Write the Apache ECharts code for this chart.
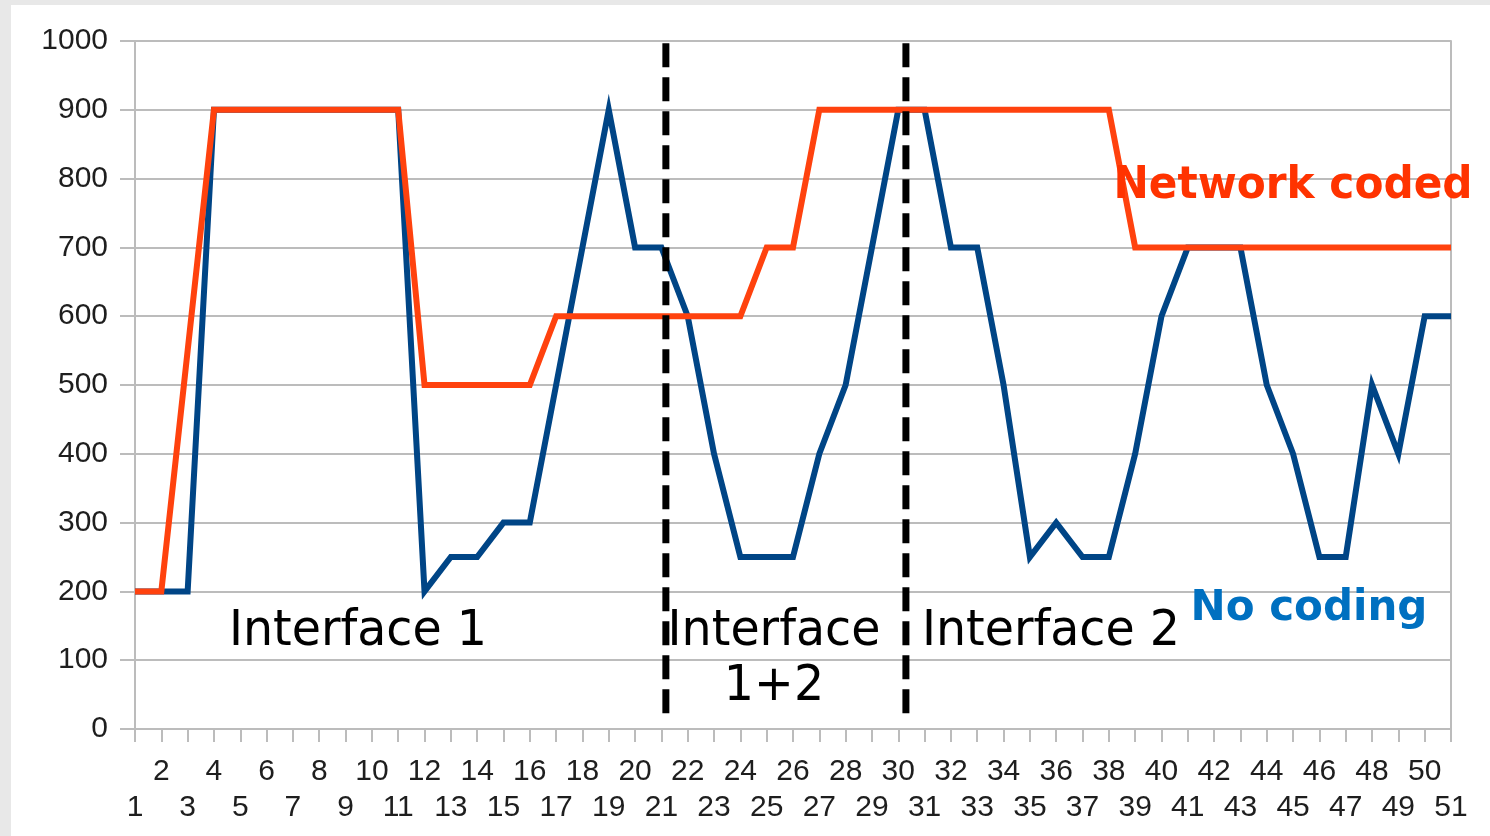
<!DOCTYPE html>
<html>
<head>
<meta charset="utf-8">
<script src="https://cdn.jsdelivr.net/npm/echarts@6/dist/echarts.min.js"></script>
<style>
  html, body { margin: 0; padding: 0; width: 1490px; height: 836px; background: #e8e8e8; overflow: hidden; }
  #chart { position: absolute; left: 11px; top: 5px; width: 1479px; height: 831px; background: #ffffff; }
</style>
</head>
<body>
<div id="chart"></div>
<script>
const categories = ['1','2','3','4','5','6','7','8','9','10','11','12','13','14','15','16','17','18','19','20','21','22','23','24','25','26','27','28','29','30','31','32','33','34','35','36','37','38','39','40','41','42','43','44','45','46','47','48','49','50','51'];

const networkCoded = [200,200,550,900,900,900,900,900,900,900,900,500,500,500,500,500,600,600,600,600,600,600,600,600,700,700,900,900,900,900,900,900,900,900,900,900,900,900,700,700,700,700,700,700,700,700,700,700,700,700,700];

const noCoding = [200,200,200,900,900,900,900,900,900,900,900,200,250,250,300,300,500,700,900,700,700,600,400,250,250,250,400,500,700,900,900,700,700,500,250,300,250,250,400,600,700,700,700,500,400,250,250,500,400,600,600];

const yTicks = { min: 0, max: 1000, interval: 100 };

// Region dividers (position on the category scale, 1-based) and their vertical extent
const dividers = [21.17, 30.29];
const dividerSpan = [23, 998];

const regionLabels = ['Interface 1', 'Interface\n1+2', 'Interface 2'];
const seriesLabels = ['Network coded', 'No coding'];

const chart = echarts.init(document.getElementById('chart'), null, { renderer: 'canvas' });

const gridColor = '#bcbcbc';
const dividerSeries = dividers.map((d, i) => ({
  name: 'divider' + i,
  type: 'line',
  xAxisIndex: 1,
  yAxisIndex: 0,
  symbol: 'none',
  silent: true,
  z: 5,
  lineStyle: { color: '#000000', width: 7, type: [24, 10] },
  data: [[d, dividerSpan[0]], [d, dividerSpan[1]]]
}));

const textFont = 'DejaVu Sans';

const option = {
  animation: false,
  backgroundColor: '#ffffff',
  grid: { left: 124, right: 39, top: 36, bottom: 107 },
  xAxis: [{
    type: 'category',
    data: categories,
    boundaryGap: false,
    axisLine: { show: true, lineStyle: { color: gridColor, width: 2 } },
    axisTick: { show: true, interval: 0, length: 13, lineStyle: { color: gridColor, width: 2 } },
    axisLabel: {
      interval: 0,
      margin: 25,
      fontSize: 30,
      lineHeight: 36,
      fontFamily: 'Liberation Sans',
      color: '#1e1e1e',
      formatter: function (v) { return (parseInt(v, 10) % 2 === 1) ? '\n' + v : v; }
    },
    splitLine: { show: false }
  }, {
    type: 'value',
    min: 1,
    max: 51,
    show: false
  }],
  yAxis: [{
    type: 'value',
    min: yTicks.min,
    max: yTicks.max,
    interval: yTicks.interval,
    axisLine: { show: true, lineStyle: { color: gridColor, width: 2 } },
    axisTick: { show: true, length: 15, lineStyle: { color: gridColor, width: 2 } },
    axisLabel: { margin: 27, fontSize: 30, fontFamily: 'Liberation Sans', color: '#1e1e1e',
      formatter: function (v) { return String(v); } },
    splitLine: { show: true, lineStyle: { color: gridColor, width: 2 } }
  }, {
    type: 'value',
    min: yTicks.min,
    max: yTicks.max,
    interval: yTicks.interval,
    position: 'right',
    axisLine: { show: true, lineStyle: { color: gridColor, width: 2 } },
    axisTick: { show: false },
    axisLabel: { show: false },
    splitLine: { show: false }
  }],
  series: [{
    name: seriesLabels[1],
    type: 'line',
    data: noCoding,
    symbol: 'none',
    z: 3,
    lineStyle: { color: '#004586', width: 6, join: 'miter' }
  }, {
    name: seriesLabels[0],
    type: 'line',
    data: networkCoded,
    symbol: 'none',
    z: 4,
    lineStyle: { color: '#ff420e', width: 6, join: 'miter' }
  }].concat(dividerSeries),
  graphic: [
    { type: 'text', x: 358 - 11, y: 632 - 5, z: 10, scaleX: 0.97,
      style: { text: regionLabels[0], font: '49px "' + textFont + '"', fill: '#000', align: 'center', verticalAlign: 'middle' } },
    { type: 'text', x: 774 - 11, y: 605 - 5, z: 10, scaleX: 0.97,
      style: { text: regionLabels[1], font: '49px "' + textFont + '"', fill: '#000', align: 'center', verticalAlign: 'top', lineHeight: 55 } },
    { type: 'text', x: 1051 - 11, y: 632 - 5, z: 10, scaleX: 0.97,
      style: { text: regionLabels[2], font: '49px "' + textFont + '"', fill: '#000', align: 'center', verticalAlign: 'middle' } },
    { type: 'text', x: 1293 - 11, y: 187 - 5, z: 10, scaleX: 0.96,
      style: { text: seriesLabels[0], font: 'bold 44px "' + textFont + '"', fill: '#ff3300', align: 'center', verticalAlign: 'middle' } },
    { type: 'text', x: 1309 - 11, y: 609 - 5, z: 10,
      style: { text: seriesLabels[1], font: 'bold 42px "' + textFont + '"', fill: '#0070c0', align: 'center', verticalAlign: 'middle' } }
  ]
};

chart.setOption(option);
</script>
</body>
</html>
